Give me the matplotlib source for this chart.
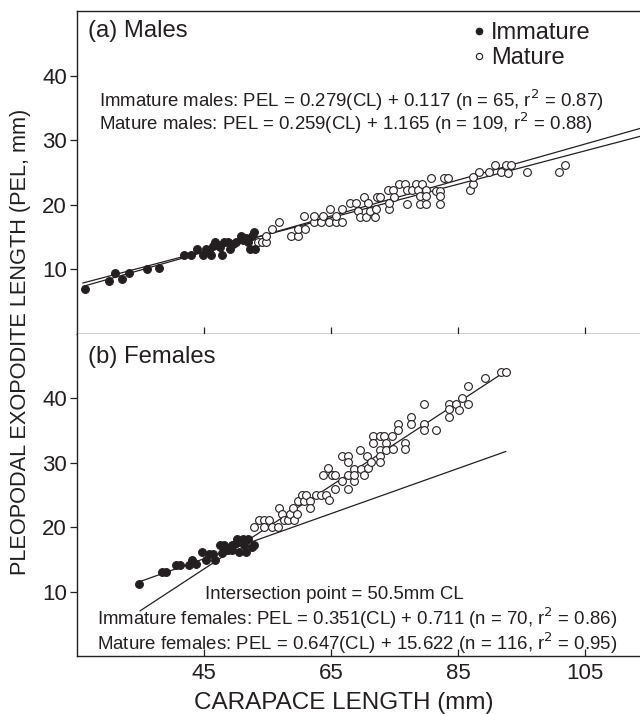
import matplotlib
matplotlib.use('Agg')
import matplotlib.pyplot as plt
from matplotlib.lines import Line2D
import numpy as np

plt.rcParams['font.family'] = ['Liberation Sans Narrow', 'Liberation Sans', 'DejaVu Sans']

INK = '#231f20'

# ---- data ----
# (a) males
male_imm_cl = [26.3, 30.1, 31.1, 32.2, 33.2, 36.0, 37.9, 41.9, 43.0, 44.0, 44.9, 45.3,
               46.2, 46.5, 46.8, 47.6, 47.9, 48.2, 48.8, 49.1, 50.0, 50.9, 51.7, 52.0,
               52.3, 52.9, 53.0, 52.6, 45.8, 47.2, 49.6, 51.2]
male_imm_pel = [7.0, 8.2, 9.5, 8.5, 9.5, 10.1, 10.2, 12.3, 12.3, 13.2, 12.2, 13.2,
                12.2, 13.7, 14.3, 13.4, 12.2, 14.2, 14.3, 13.2, 14.3, 15.1, 14.8, 14.2,
                13.2, 15.8, 13.2, 15.2, 13.0, 13.8, 13.9, 14.6]

male_mat_cl = [53.5, 54.1, 54.8, 54.8, 55.8, 56.9, 58.8, 59.9, 59.9, 61.0, 60.8, 62.3,
               62.3, 63.4, 63.7, 64.7, 64.9, 65.8, 65.8, 66.8, 66.8, 68.0, 68.9, 69.3,
               69.6, 70.5, 70.2, 70.8, 71.1, 71.9, 72.1, 72.2, 72.8, 74.0, 74.2, 74.2,
               74.7, 74.9, 75.7, 76.7, 76.9, 76.9, 77.8, 78.4, 78.7, 79.0, 79.0, 79.4,
               80.0, 80.0, 80.0, 80.7, 81.5, 82.1, 82.1, 82.1, 82.8, 83.4, 86.9, 87.3,
               87.3, 88.3, 89.9, 90.8, 91.8, 92.6, 92.8, 93.4, 95.9, 100.9, 101.9, 114.5]
male_mat_pel = [14.2, 14.2, 14.2, 15.2, 16.2, 17.4, 15.1, 15.1, 16.3, 16.3, 18.2, 17.4,
                18.2, 17.4, 18.2, 17.4, 19.3, 17.4, 18.2, 17.4, 19.3, 20.3, 20.3, 19.1,
                18.1, 18.1, 21.2, 20.3, 19.1, 18.1, 19.4, 21.2, 21.2, 22.3, 19.4, 20.3,
                22.3, 21.2, 23.2, 23.2, 22.3, 20.2, 22.3, 23.2, 22.3, 21.3, 20.2, 23.2,
                22.3, 21.3, 20.2, 24.2, 22.2, 22.2, 21.3, 20.2, 24.2, 24.2, 22.3, 23.2,
                24.3, 25.1, 25.1, 26.2, 25.1, 26.2, 25.0, 26.2, 25.1, 25.1, 26.2, 30.5]

# (b) females
fem_imm_cl = [34.75, 38.4, 39.1, 40.7, 41.3, 42.7, 43.2, 43.8, 44.7, 45.3, 45.8, 46.5,
              46.8, 47.6, 48.2, 48.2, 48.8, 49.4, 49.4, 50.3, 50.6, 51.1, 51.4, 51.7,
              52.0, 52.6, 52.9, 47.9, 50.0, 51.5]
fem_imm_pel = [11.2, 13.0, 13.0, 14.1, 14.1, 14.1, 14.9, 14.3, 16.1, 14.9, 15.9, 15.9,
               14.9, 17.2, 17.2, 16.4, 16.4, 16.4, 17.2, 18.2, 16.1, 18.2, 17.3, 16.1,
               18.2, 16.9, 17.3, 16.0, 17.5, 18.0]

fem_mat_cl = [52.9, 53.7, 54.4, 54.4, 55.2, 55.8, 56.7, 56.8, 57.3, 57.6, 58.3, 58.6,
              59.1, 59.2, 59.6, 59.8, 60.5, 60.8, 61.1, 61.7, 61.7, 62.7, 63.4, 63.7,
              64.3, 64.6, 64.7, 65.1, 65.7, 65.7, 66.7, 66.7, 67.7, 67.7, 67.7, 67.7,
              68.6, 68.6, 68.7, 69.6, 69.8, 70.2, 70.6, 70.8, 71.3, 71.6, 71.6, 72.7,
              72.7, 72.7, 72.7, 73.3, 73.7, 73.7, 74.6, 74.7, 75.6, 75.6, 76.6, 76.6,
              77.6, 77.6, 79.7, 79.7, 79.7, 81.6, 83.5, 83.5, 83.5, 84.7, 85.2, 85.6,
              86.6, 86.6, 89.2, 91.7, 92.6]
fem_mat_pel = [20.05, 21.1, 21.1, 20.05, 21.1, 20.05, 20.05, 23.0, 22.1, 21.1, 21.1, 22.1,
               23.0, 21.1, 22.1, 24.0, 25.0, 24.0, 25.0, 24.0, 23.0, 25.0, 25.0, 28.1,
               25.0, 29.2, 24.2, 28.1, 28.1, 26.0, 31.1, 27.1, 31.1, 30.1, 28.1, 26.0,
               29.0, 27.1, 28.1, 32.0, 29.0, 28.1, 31.1, 29.2, 30.1, 34.1, 33.1, 34.1,
               32.0, 31.0, 30.1, 34.1, 33.1, 32.0, 34.1, 32.1, 36.1, 35.1, 33.1, 32.1,
               37.1, 36.1, 39.1, 36.1, 35.1, 35.1, 39.1, 38.3, 37.1, 39.1, 38.2, 40.1,
               39.1, 42.0, 43.1, 44.1, 44.1]

# fitted lines as drawn: slope, intercept, x from, x to
male_lines = [(0.279, 0.117, 26.0, 116.0), (0.259, 1.165, 26.0, 116.0)]
fem_lines = [(0.351, -0.711, 34.75, 92.5), (0.647, -15.622, 35.0, 92.5)]

male_eqs = ['Immature males: PEL = 0.279(CL) + 0.117 (n = 65, r$^2$ = 0.87)',
            'Mature males: PEL = 0.259(CL) + 1.165 (n = 109, r$^2$ = 0.88)']
fem_eqs = ['Immature females: PEL = 0.351(CL) + 0.711 (n = 70, r$^2$ = 0.86)',
           'Mature females: PEL = 0.647(CL) + 15.622 (n = 116, r$^2$ = 0.95)']

xticks = [45, 65, 85, 105]
yticks = [10, 20, 30, 40]

plt.rcParams['mathtext.fontset'] = 'custom'
plt.rcParams['mathtext.rm'] = 'Liberation Sans Narrow'

EQ_SIZE = 13.4


def style_axes(ax, show_xlabels):
    ax.set_xlim(25, 115)
    ax.set_ylim(0, 50)
    ax.set_xticks(xticks)
    ax.set_yticks(yticks)
    ax.tick_params(axis='x', direction='in', length=5, width=0.9, colors=INK,
                   labelsize=16, labelbottom=show_xlabels, pad=5)
    ax.tick_params(axis='y', direction='out', length=5, width=0.9, colors=INK,
                   labelsize=16, pad=2)
    for s in ax.spines.values():
        s.set_linewidth(1.0)
        s.set_color(INK)


def draw_panel(ax, imm_x, imm_y, mat_x, mat_y, lines):
    for m, b, x0, x1 in lines:
        xx = np.array([x0, x1])
        ax.plot(xx, m * xx + b, color=INK, lw=0.9, zorder=1)
    ax.plot(imm_x, imm_y, 'o', ms=5.6, mfc=INK, mec=INK, mew=0.8, ls='none', zorder=3)
    ax.plot(mat_x, mat_y, 'o', ms=5.6, mfc='white', mec=INK, mew=0.8, ls='none', zorder=2)


fig = plt.figure(figsize=(6.4, 7.14), dpi=100)
ax1 = fig.add_axes([0.1197, 0.5322, 0.894, 0.4524])
ax2 = fig.add_axes([0.1197, 0.0812, 0.894, 0.451])

draw_panel(ax1, male_imm_cl, male_imm_pel, male_mat_cl, male_mat_pel, male_lines)
draw_panel(ax2, fem_imm_cl, fem_imm_pel, fem_mat_cl, fem_mat_pel, fem_lines)
style_axes(ax1, False)
style_axes(ax2, True)
ax2.spines['top'].set_visible(False)

ax1.text(0.02, 0.937, '(a) Males', transform=ax1.transAxes, fontsize=17.2,
         color=INK, va='center', ha='left')
ax2.text(0.02, 0.93, '(b) Females', transform=ax2.transAxes, fontsize=17.2,
         color=INK, va='center', ha='left')

handles = [Line2D([], [], marker='o', ls='none', ms=4.5, mfc=INK, mec=INK),
           Line2D([], [], marker='o', ls='none', ms=4.5, mfc='white', mec=INK, mew=0.8)]
leg = ax1.legend(handles, ['Immature', 'Mature'], loc='upper left',
                 bbox_to_anchor=(0.667, 1.01), frameon=False, fontsize=17,
                 handlelength=0.55, handletextpad=0.25, labelspacing=0.12,
                 borderaxespad=0.2)
for t in leg.get_texts():
    t.set_color(INK)

ax1.text(0.04, 0.725, male_eqs[0], transform=ax1.transAxes, fontsize=EQ_SIZE,
         color=INK, va='center', ha='left')
ax1.text(0.04, 0.653, male_eqs[1], transform=ax1.transAxes, fontsize=EQ_SIZE,
         color=INK, va='center', ha='left')

ax2.text(0.225, 0.19, 'Intersection point = 50.5mm CL', transform=ax2.transAxes,
         fontsize=EQ_SIZE, color=INK, va='center', ha='left')
ax2.text(0.036, 0.117, fem_eqs[0], transform=ax2.transAxes, fontsize=EQ_SIZE,
         color=INK, va='center', ha='left')
ax2.text(0.036, 0.04, fem_eqs[1], transform=ax2.transAxes, fontsize=EQ_SIZE,
         color=INK, va='center', ha='left')

fig.text(0.537, 0.0155, 'CARAPACE LENGTH (mm)', fontsize=17.5, color=INK,
         ha='center', va='center')
fig.text(0.032, 0.521, 'PLEOPODAL EXOPODITE LENGTH (PEL, mm)', fontsize=15.7,
         color=INK, ha='center', va='center', rotation=90)

fig.savefig('out.png', dpi=100)
